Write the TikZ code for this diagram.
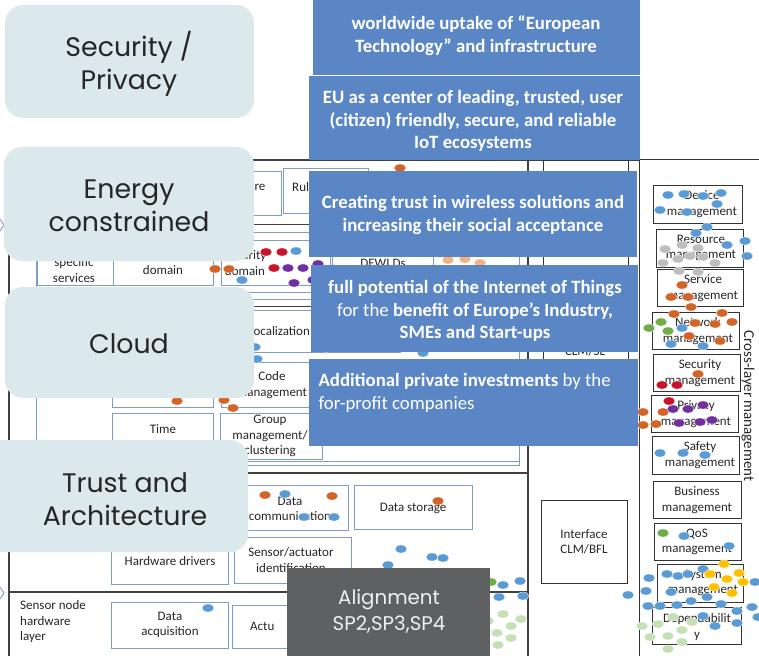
\documentclass[tikz,border=0pt]{standalone}
\usepackage{fontspec}
\setmainfont{Carlito}
\newfontfamily\popfont{Poppins}
\usetikzlibrary{shapes.geometric}
\definecolor{lightbox}{RGB}{220,233,236}
\definecolor{bluebox}{RGB}{91,134,197}
\definecolor{graybox}{RGB}{95,96,98}
\definecolor{lineblue}{RGB}{128,156,196}
\definecolor{framegray}{RGB}{64,64,64}
\definecolor{dblue}{RGB}{91,155,213}
\definecolor{dorange}{RGB}{210,100,40}
\definecolor{dred}{RGB}{200,20,40}
\definecolor{dpurple}{RGB}{112,48,160}
\definecolor{dgray}{RGB}{190,190,190}
\definecolor{dgreen}{RGB}{112,173,71}
\definecolor{dlgreen}{RGB}{197,224,180}
\definecolor{dyellow}{RGB}{255,192,0}
\definecolor{dlorange}{RGB}{244,177,131}
\tikzset{
  frame/.style={draw=framegray,line width=1.2pt},
  lbox/.style={draw=lineblue,line width=1pt},
  cbox/.style={draw=black!80,line width=0.8pt},
  dtxt/.style={font=\fontsize{13}{15.5}\selectfont,text=black!85,align=center,inner sep=0pt},
  softbox/.style={fill=lightbox,rounded corners=18pt},
  bigtxt/.style={font=\popfont\fontsize{26.8}{33}\selectfont,text=black!85,align=center},
  bluetxt/.style={font=\bfseries\fontsize{18.8}{22.8}\selectfont,text=white,align=center},
  pt/.style={ellipse,inner sep=0pt,minimum width=12pt,minimum height=8pt,draw=white,line width=0.3pt},
}
\begin{document}
\begin{tikzpicture}[x=1pt,y=-1pt]
\useasboundingbox (0,0) rectangle (759,655);
\clip (0,0) rectangle (759,655);
% ---------------- background architecture -----------------
\draw[frame] (9,160) -- (639,160);
\draw[frame] (9,160) -- (9,660);
\draw[frame] (528,160) -- (528,660);
\draw[frame] (9,473) -- (528,473);
\draw[frame] (9,592) -- (528,592);
\draw[cbox,line width=1pt] (639,160) -- (770,160);
\draw[cbox,line width=1pt] (639,160) -- (639,660);
% top layer inner structure
\draw[frame,line width=1pt] (30,224) -- (522,224);
\draw[lbox] (36,232) rectangle (519,465);
\draw[lbox] (36,461) -- (519,461);
\draw[lbox] (200,171) rectangle (281,215);
\draw[lbox] (283,168) rectangle (368,213);
\node[dtxt] (re) at (260,187) {re};
\node[dtxt,anchor=west] (rul) at (292,187) {Rul};
\draw[lbox] (37,240) rectangle (113,285);
\draw[lbox] (113,240) rectangle (213,285);
\draw[lbox] (221,240) rectangle (330,285);
\draw[lbox] (332,240) rectangle (433,285);
\node[dtxt] (specs) at (74,270) {specific\\services};
\node[dtxt] (dom) at (163,270) {domain};
\node[dtxt] (secdom) at (245,263) {Security\\domain};
\node[dtxt] (dewi) at (383,263) {DEWI Ds};
\draw[lbox] (36,292) -- (519,292);
\draw[lbox] (36,299) -- (519,299);
\draw[frame,line width=0.8pt] (36,306) -- (519,306);
\draw[lbox] (113,310) rectangle (213,352);
\draw[lbox] (221,310) rectangle (325,352);
\draw[lbox] (327,310) rectangle (400,352);
\node[dtxt] (loc) at (279,331) {Localization};
\draw[lbox] (112,362) rectangle (213,407);
\draw[lbox] (221,362) rectangle (320,407);
\node[dtxt] (code) at (272,385) {Code\\management};
\draw[lbox] (112,413) rectangle (213,458);
\draw[lbox] (220,413) rectangle (322,459);
\node[dtxt] (time) at (163,429) {Time};
\node[dtxt] (group) at (270,436) {Group\\management/\\clustering};
% CLM column
\draw[cbox] (543,160) rectangle (628,400);
\node[dtxt] (clmsl) at (585,351) {CLM/SL};
\draw[cbox] (541,500) rectangle (627,583);
\node[dtxt] (iface) at (584,542) {Interface\\CLM/BFL};
% middle layer
\node[dtxt,anchor=west] (lay) at (20,545) {layer};
\draw[lbox] (236,485) rectangle (348,530);
\draw[lbox] (354,485) rectangle (472,529);
\draw[lbox] (111,537) rectangle (228,584);
\draw[lbox] (234,537) rectangle (351,583);
\node[dtxt] (dcomm) at (290,509) {Data\\communication};
\node[dtxt] (dstor) at (413,508) {Data storage};
\node[dtxt] (hwd) at (170,561) {Hardware drivers};
\node[dtxt] (sai) at (291,560) {Sensor/actuator\\identification};
% bottom layer
\node[dtxt,align=left,anchor=west] (snhl) at (20,622) {Sensor node\\hardware\\layer};
\draw[lbox] (111,602) rectangle (228,648);
\draw[lbox] (232,605) rectangle (330,648);
\node[dtxt] (dacq) at (170,625) {Data\\acquisition};
\node[dtxt,anchor=west] (actu) at (250,626) {Actu};
% cross-layer management
\node[dtxt,rotate=-90,font=\fontsize{15}{16}\selectfont] (clm) at (748,406) {Cross-layer management};
\draw[cbox] (653,185) rectangle (742,223);
\node[dtxt] (devm) at (702,204) {Device\\management};
\draw[cbox] (656,229) rectangle (743,267);
\node[dtxt] (resm) at (701,248) {Resource\\management};
\draw[cbox] (657,269) rectangle (743,306);
\node[dtxt] (serm) at (703,288) {Service\\management};
\draw[cbox] (652,312) rectangle (739,349);
\node[dtxt] (netm) at (698,331) {Network\\management};
\draw[cbox] (653,354) rectangle (740,391);
\node[dtxt] (secm) at (700,373) {Security\\management};
\draw[cbox] (651,395) rectangle (738,432);
\node[dtxt] (prim) at (696,414) {Privacy\\management};
\draw[cbox] (652,436) rectangle (739,474);
\node[dtxt] (safm) at (700,455) {Safety\\management};
\draw[cbox] (653,481) rectangle (741,518);
\node[dtxt] (busm) at (697,500) {Business\\management};
\draw[cbox] (654,523) rectangle (741,560);
\node[dtxt] (qosm) at (697,542) {QoS\\management};
\draw[cbox] (657,564) rectangle (743,602);
\node[dtxt] (sysm) at (703,583) {System\\management};
\draw[cbox] (652,607) rectangle (741,644);
\node[dtxt] (depm) at (697,627) {Dependabilit\\y};
% small arrow fragments at left edge
\draw[lineblue,line width=0.9pt] (0,219) -- (4,225) -- (0,231);
\draw[lineblue,line width=0.9pt] (0,587) -- (4,593) -- (0,599);
\draw[bluebox!70!black,line width=1.3pt] (0,455) -- (3,463);
% ---------------- dots -----------------
\foreach \x/\y [count=\i] in {668/195,684/194,703/196,721/193,717/204,660/210,687/212,707/227,696/233,727/245,745/241,747/256,682/328,671/344,703/346,660/453,683/453,705/455,684/536,729/546,667/574,678/576,688/574,703/569,671/592,707/597,691/601,721/604,649/578,646/591,628/595,648/606,660/606,677/605,737/611,752/607,758/617,755/582,703/616,715/626,737/623,503/585,520/581,499/597,523/596,401/549,432/557,443/558,388/565,285/494,304/517,334/517,208/608,296/251,242/280,423/353,257/359,255/347}
  \node[pt,fill=dblue] (bl\i) at (\x,\y) {};
\foreach \x/\y [count=\i] in {682/285,671/297,688/297,691/307,674/314,722/313,732/322,695/323,715/324,689/336,720/341,698/374,643/412,663/412,643/425,656/424,332/496,438/501,265/495,215/269,229/269,400/168,224/400,233/408,177/401}
  \node[pt,fill=dorange] (or\i) at (\x,\y) {};
\foreach \x/\y [count=\i] in {266/252,282/252,274/268,662/385,677/385,669/401}
  \node[pt,fill=dred] (rd\i) at (\x,\y) {};
\foreach \x/\y [count=\i] in {288/268,303/268,318/264,294/283,313/280,673/409,688/409,703/405,679/423,700/422,712/420}
  \node[pt,fill=dpurple] (pu\i) at (\x,\y) {};
\foreach \x/\y [count=\i] in {665/249,682/245,698/248,690/256,703/257,678/259,663/263,715/263,679/271,698/272}
  \node[pt,fill=dgray] (gr\i) at (\x,\y) {};
\foreach \x/\y [count=\i] in {649/328,661/322,668/331,663/533,491/582}
  \node[pt,fill=dgreen] (gn\i) at (\x,\y) {};
\foreach \x/\y [count=\i] in {642/626,658/624,673/617,692/622,650/637,668/636,682/630,682/642,668/649,503/614,521/619,511/626,497/633,511/638,498/645,488/621}
  \node[pt,fill=dlgreen] (lg\i) at (\x,\y) {};
\foreach \x/\y [count=\i] in {724/564,710/574,727/579,739/573,743/582,714/587,732/593}
  \node[pt,fill=dyellow] (ye\i) at (\x,\y) {};
\foreach \x/\y [count=\i] in {448/260,465/259,480/263}
  \node[pt,fill=dlorange] (lo\i) at (\x,\y) {};
% ---------------- overlay boxes -----------------
\fill[softbox] (5,5) rectangle (254,118);
\node[bigtxt] (sec) at (129,64) {Security /\\Privacy};
\fill[softbox] (4,147) rectangle (254,261);
\node[bigtxt] (ene) at (129,206) {Energy\\constrained};
\fill[softbox] (5,287) rectangle (254,398);
\node[bigtxt] (cloud) at (129,344) {Cloud};
\fill[softbox] (-20,440) rectangle (248,552);
\node[bigtxt] (trust) at (125,499) {Trust and\\Architecture};
\fill[bluebox] (313,-5) rectangle (640,75);
\node[bluetxt] (g1) at (476,36) {worldwide uptake of “European\\Technology” and infrastructure};
\fill[bluebox] (309,76) rectangle (640,160);
\node[bluetxt] (g2) at (473,121) {EU as a center of leading, trusted, user\\(citizen) friendly, secure, and reliable\\IoT ecosystems};
\fill[bluebox] (309,171) rectangle (637,257);
\node[bluetxt] (g3) at (473,215) {Creating trust in wireless solutions and\\increasing their social acceptance};
\fill[bluebox] (311,265) rectangle (638,352);
\node[bluetxt] (g4) at (475,311) {full potential of the Internet of Things\\{\mdseries for the} benefit of Europe’s Industry,\\SMEs and Start-ups};
\fill[bluebox] (309,359) rectangle (638,446);
\node[bluetxt,align=left,anchor=west] (g5) at (315,393) {Additional private investments {\mdseries by the}\\{\mdseries for-profit companies}};
\fill[graybox] (287,568) rectangle (490,660);
\node[font=\popfont\fontsize{19.8}{26}\selectfont,text=white!94!black,align=center] (align) at (389,611) {Alignment\\SP2,SP3,SP4};
\end{tikzpicture}
\end{document}
